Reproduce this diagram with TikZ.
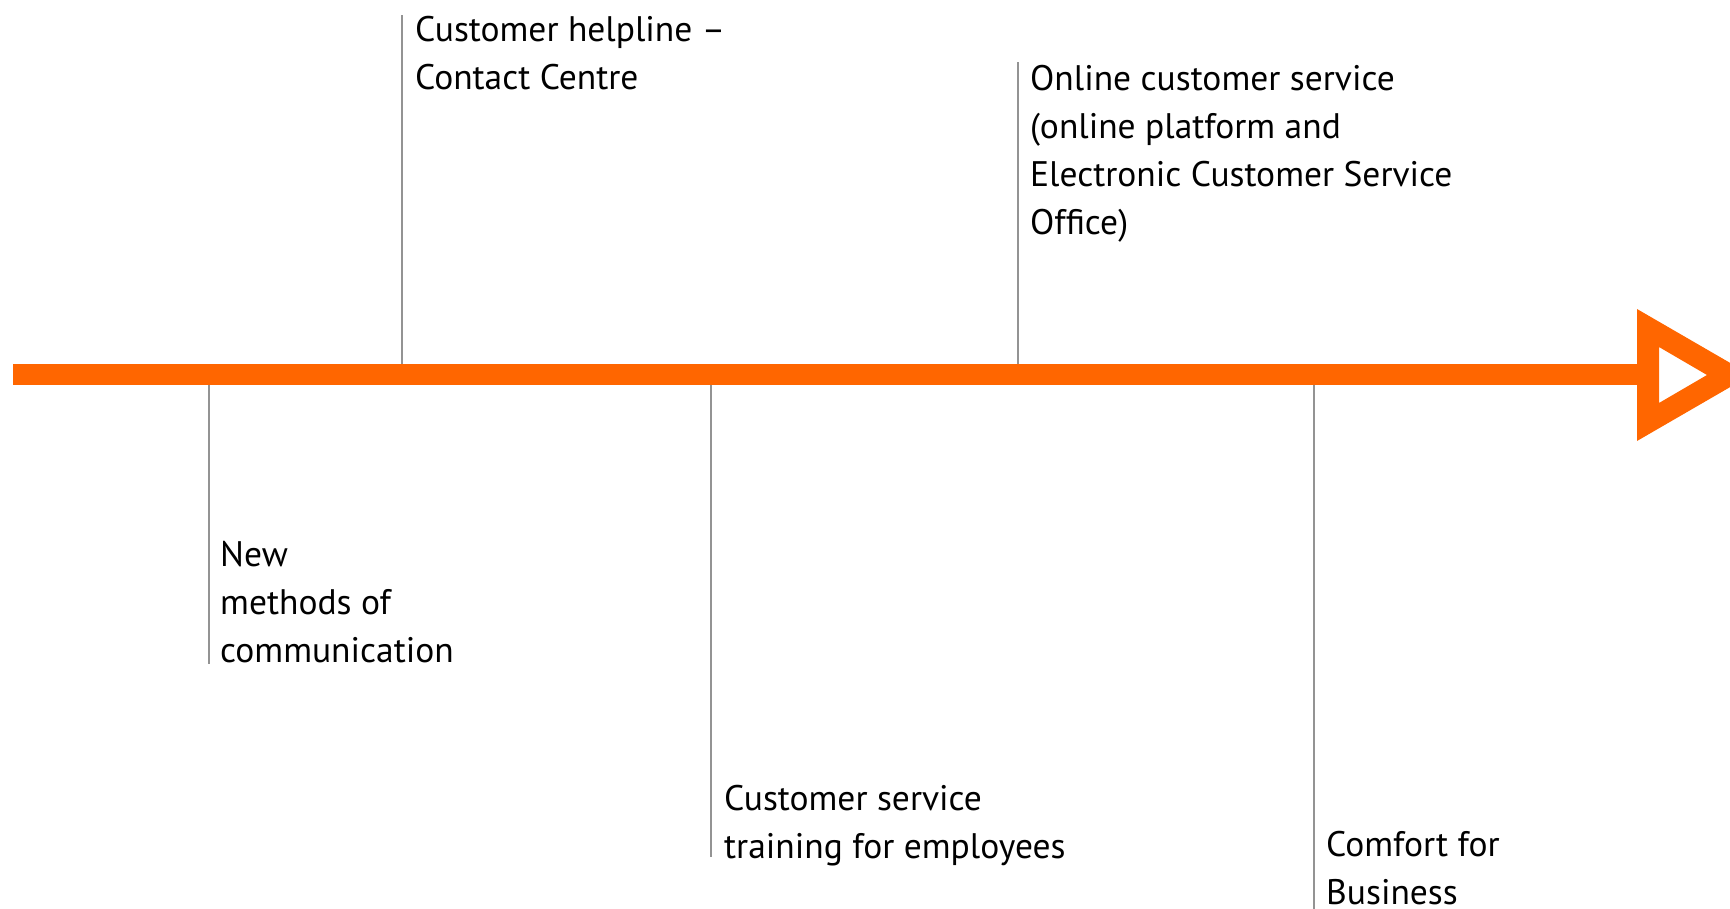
\documentclass[tikz,border=0pt]{standalone}
\usepackage{fontspec}
\setmainfont{PT Sans}
\definecolor{orng}{HTML}{FF6600}
\definecolor{tickgray}{HTML}{939393}
\tikzset{
  tickline/.style={draw=tickgray, line width=2pt},
  lbl/.style={anchor=base west, inner sep=0pt, text=black, font=\fontsize{35.5}{48}\selectfont},
}
\newcommand{\lines}[1]{\begin{tabular}[t]{@{}l@{}}#1\end{tabular}}
\begin{document}
\begin{tikzpicture}[x=1pt,y=-1pt]
\useasboundingbox (0,0) rectangle (1730,909);
\clip (0,0) rectangle (1730,909);
% timeline bar and arrowhead
\fill[orng] (13,364) rectangle (1645,385);
\fill[orng, even odd rule] (1637,309) -- (1751,375) -- (1637,441) -- cycle
  (1659,347) -- (1707,375) -- (1659,403) -- cycle;
% anchor points on bar
\coordinate (b1) at (402,364);
\coordinate (b2) at (1017.5,364);
\coordinate (b3) at (208.5,385);
\coordinate (b4) at (711,385);
\coordinate (b5) at (1314,385);
\coordinate (e1) at (402,15);
\coordinate (e2) at (1017.5,62);
\coordinate (e3) at (208.5,664);
\coordinate (e4) at (711,857);
\coordinate (e5) at (1314,909);
\draw[tickline] (b1) -- (e1);
\draw[tickline] (b2) -- (e2);
\draw[tickline] (b3) -- (e3);
\draw[tickline] (b4) -- (e4);
\draw[tickline] (b5) -- (e5);
% labels
\node[lbl] (help) at (415,42) {\lines{Customer helpline –\\Contact Centre}};
\node[lbl] (online) at (1030,91) {\lines{Online customer service\\(online platform and\\Electronic Customer Service\\Office)}};
\node[lbl] (newm) at (220,566) {\lines{New\\methods of\\communication}};
\node[lbl] (train) at (724,810) {\lines{Customer service\\training for employees}};
\node[lbl] (comfort) at (1326,856) {\lines{Comfort for\\Business}};
\end{tikzpicture}
\end{document}
